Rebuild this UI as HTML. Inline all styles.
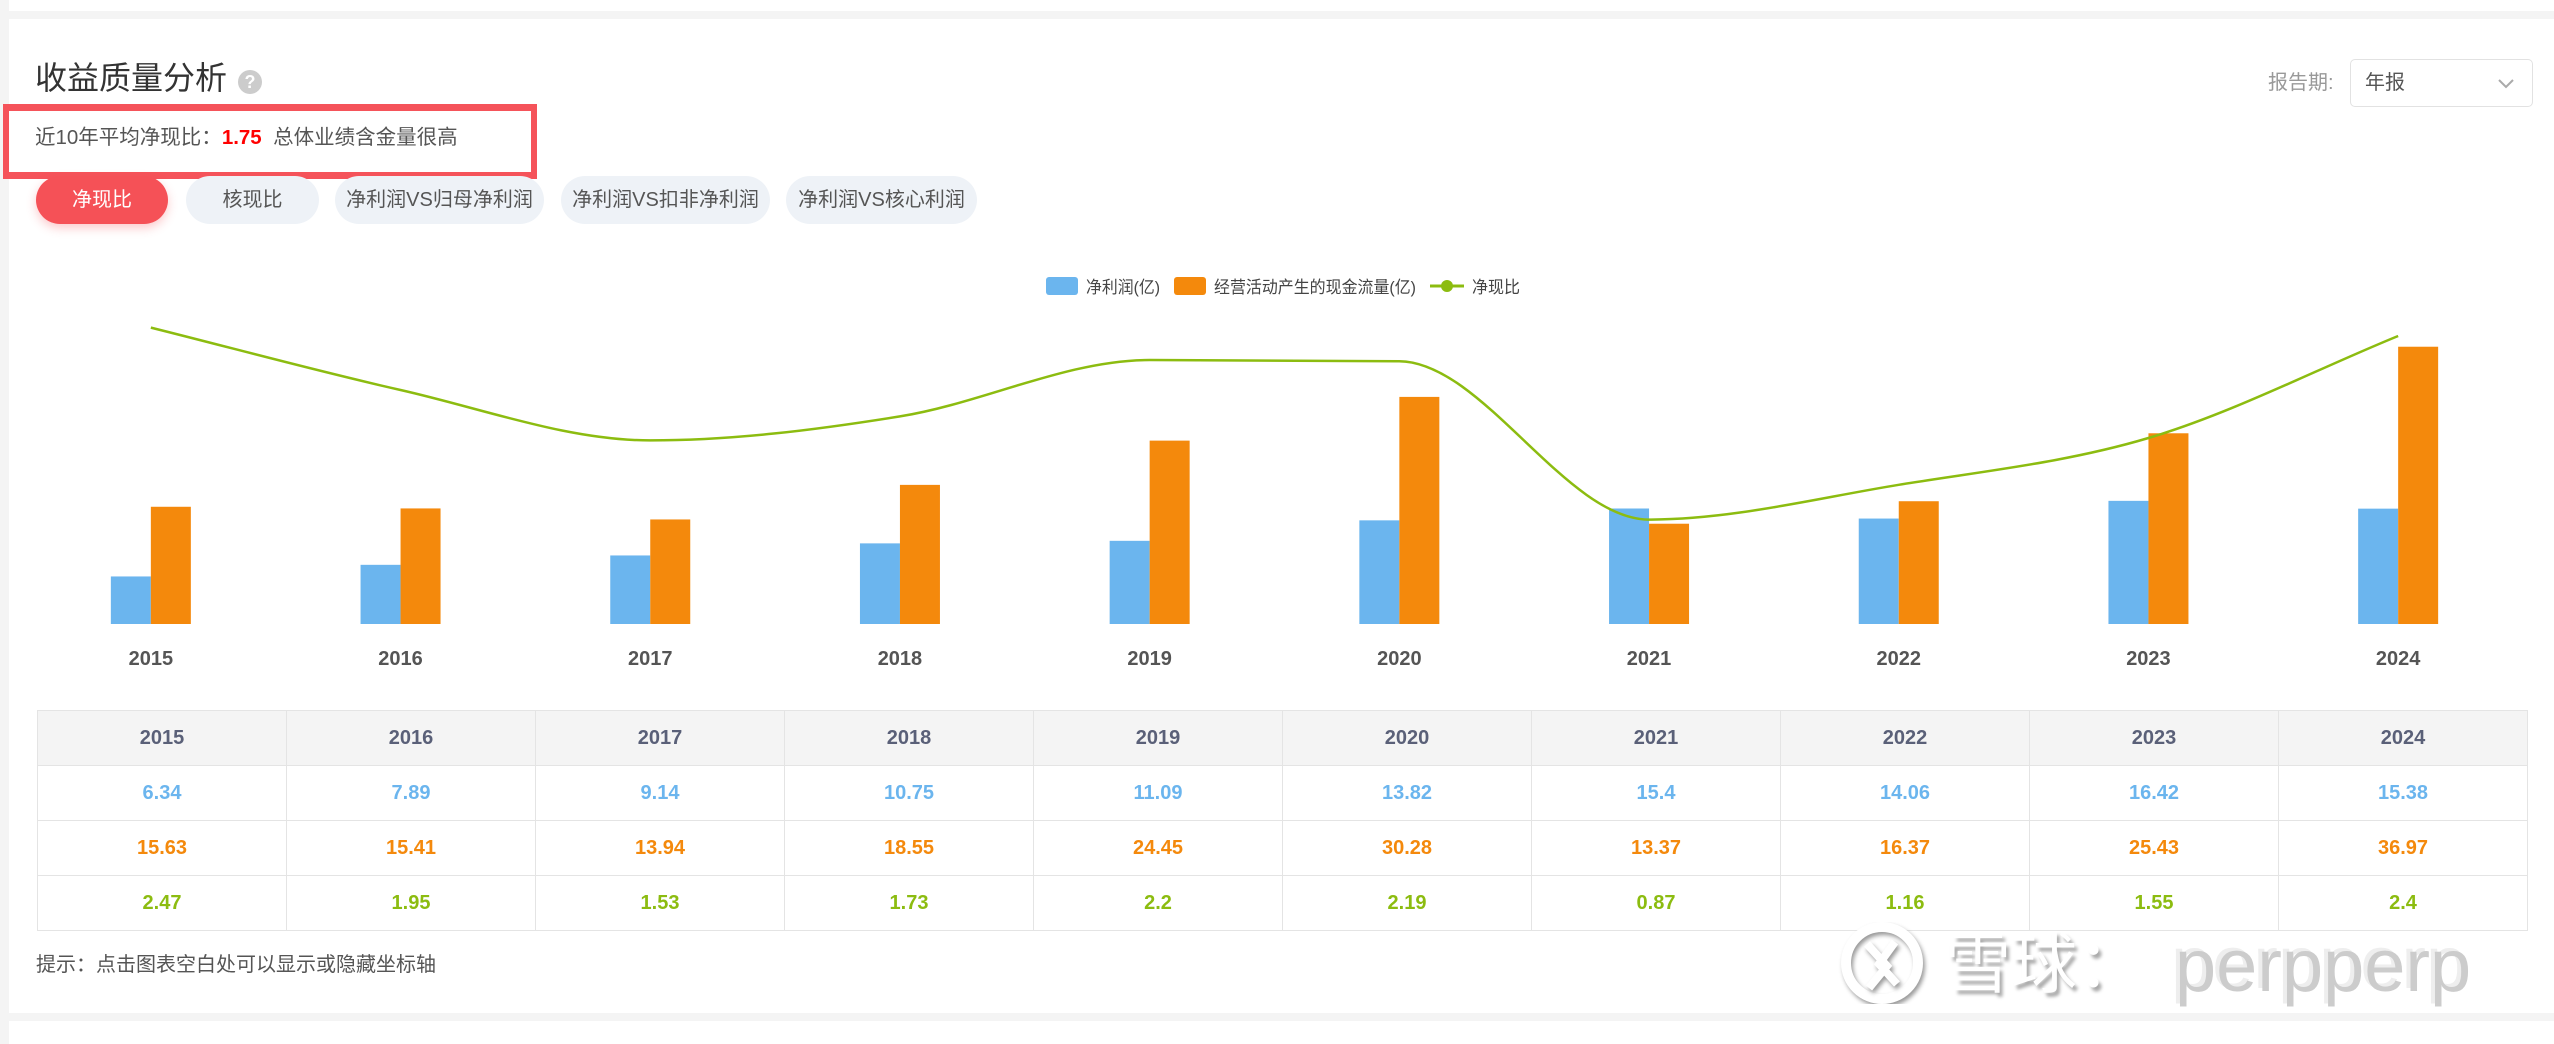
<!DOCTYPE html>
<html><head><meta charset="utf-8">
<style>
html,body{margin:0;padding:0;}
body{width:2554px;height:1044px;background:#f4f4f4;position:relative;overflow:hidden;font-family:"Liberation Sans","Noto Sans CJK SC",sans-serif;}
.abs{position:absolute;}
#card0{left:9px;top:0;width:2545px;height:11px;background:#fff;}
#card{left:9px;top:19px;width:2545px;height:994px;background:#fff;}
#card2{left:9px;top:1021px;width:2545px;height:23px;background:#fff;}
.btn{position:absolute;top:176px;height:48px;border-radius:24px;background:#eef2f7;color:#555;font-size:20px;line-height:48px;text-align:center;}
table{border-collapse:collapse;table-layout:fixed;}
td{border:1px solid #e4e4e4;height:54px;padding:0;text-align:center;font-size:20px;font-weight:bold;}
</style></head><body>
<div class="abs" id="card0"></div>
<div class="abs" id="card"></div>
<div class="abs" id="card2"></div>

<div class="abs" style="left:35px;top:58px;font-size:32px;color:#333;line-height:40px;">收益质量分析</div>
<div class="abs" style="left:238px;top:70px;width:24px;height:24px;border-radius:12px;background:#ccc;color:#fff;font-size:18px;font-weight:bold;text-align:center;line-height:24px;">?</div>

<div class="abs" style="left:3px;top:104px;width:522px;height:61px;border:6px solid #f5535a;border-width:7px 6px;"></div>
<div class="abs" style="left:35px;top:126px;font-size:20.5px;color:#555;line-height:24px;white-space:nowrap;">近10年平均净现比：<span style="color:#f00;font-weight:bold;">1.75</span>&nbsp;&nbsp;总体业绩含金量很高</div>

<div class="btn" style="left:36px;width:132px;background:#f55157;color:#fff;box-shadow:0 4px 10px rgba(245,81,87,0.3);">净现比</div>
<div class="btn" style="left:186px;width:133px;">核现比</div>
<div class="btn" style="left:335px;width:209px;">净利润VS归母净利润</div>
<div class="btn" style="left:561px;width:209px;">净利润VS扣非净利润</div>
<div class="btn" style="left:786px;width:191px;">净利润VS核心利润</div>

<div class="abs" style="left:2268px;top:71px;font-size:20px;color:#999;line-height:24px;">报告期:</div>
<div class="abs" style="left:2350px;top:59px;width:181px;height:46px;border:1px solid #e2e2e2;border-radius:5px;">
  <span style="position:absolute;left:14px;top:11px;font-size:20px;color:#555;line-height:24px;">年报</span>
  <svg style="position:absolute;left:146px;top:16px;" width="18" height="14"><polyline points="2,4 9,11 16,4" fill="none" stroke="#aaa" stroke-width="2"/></svg>
</div>

<svg class="abs" id="chart" style="left:0;top:0;" width="2554" height="700"></svg>

<table class="abs" id="tbl" style="left:37px;top:710px;width:2491px;"></table>

<div class="abs" style="left:36px;top:952px;font-size:20px;color:#555;line-height:26px;">提示：点击图表空白处可以显示或隐藏坐标轴</div>

<div class="abs" style="left:1837px;top:922px;height:85px;white-space:nowrap;">
  <svg width="92" height="82" style="position:absolute;left:0;top:0;"><circle cx="45" cy="41" r="36" fill="none" stroke="#fff" stroke-width="10" style="filter:drop-shadow(2px 3px 2px #999)"/><path d="M30 22 L50 44 L32 66 M58 20 L42 42 L60 62" fill="none" stroke="#fff" stroke-width="8" style="filter:drop-shadow(2px 3px 2px #999)"/></svg>
  <span style="position:absolute;left:108px;top:4px;font-size:66px;color:#fff;text-shadow:3px 4px 3px #aaa;line-height:76px;">雪球：</span>
  <span style="position:absolute;left:338px;top:2px;font-size:74px;color:#ccc;text-shadow:-4px -3px 0 #eee;line-height:84px;">perpperp</span>
</div>

<script>
const years = ['2015','2016','2017','2018','2019','2020','2021','2022','2023','2024'];
const netProfit = [6.34,7.89,9.14,10.75,11.09,13.82,15.4,14.06,16.42,15.38];
const opCashFlow = [15.63,15.41,13.94,18.55,24.45,30.28,13.37,16.37,25.43,36.97];
const cashRatio = [2.47,1.95,1.53,1.73,2.2,2.19,0.87,1.16,1.55,2.4];
const barAxisMax = 40;
const ratioAxisMax = 2.5;

const NS='http://www.w3.org/2000/svg';
const svg=document.getElementById('chart');
const gridL=26, gridW=2497, base=624, plotH=300;
const band=gridW/years.length;
const xC=i=>gridL+band*(i+0.5);
const yBar=v=>base-v/barAxisMax*plotH;
const yRatio=v=>base-v/ratioAxisMax*plotH;
function mk(tag,attrs){const e=document.createElementNS(NS,tag);for(const k in attrs)e.setAttribute(k,attrs[k]);svg.appendChild(e);return e;}

// legend
let lg=mk('rect',{x:1046,y:277,width:32,height:18,rx:3,fill:'#6bb5ee'});


lg=mk('text',{x:1086,y:293,'font-size':17,fill:'#444',textLength:74,lengthAdjust:'spacingAndGlyphs'});lg.textContent='净利润(亿)';


lg=mk('rect',{x:1174,y:277,width:32,height:18,rx:3,fill:'#f4890c'});


lg=mk('text',{x:1214,y:293,'font-size':17,fill:'#444',textLength:202,lengthAdjust:'spacingAndGlyphs'});lg.textContent='经营活动产生的现金流量(亿)';


lg=mk('line',{x1:1430,y1:286,x2:1464,y2:286,stroke:'#8cbc10','stroke-width':3});


lg=mk('circle',{cx:1447,cy:286,r:6,fill:'#8cbc10'});


lg=mk('text',{x:1472,y:293,'font-size':17,fill:'#444',textLength:48,lengthAdjust:'spacingAndGlyphs'});lg.textContent='净现比';



const bw=40;
years.forEach((y,i)=>{
  const c=xC(i);
  let b=mk('rect',{x:c-bw,y:yBar(netProfit[i]),width:bw,height:base-yBar(netProfit[i]),fill:'#6bb5ee'});
  
  
  b=mk('rect',{x:c,y:yBar(opCashFlow[i]),width:bw,height:base-yBar(opCashFlow[i]),fill:'#f4890c'});
  
  
  const t=mk('text',{x:c,y:665,'font-size':20,'font-weight':'bold',fill:'#555','text-anchor':'middle'});
  t.textContent=y;
  
  
});

// monotone-x smooth line
const pts=cashRatio.map((v,i)=>[xC(i),yRatio(v)]);
const n=pts.length;
const sl=[];for(let i=0;i<n-1;i++)sl.push((pts[i+1][1]-pts[i][1])/(pts[i+1][0]-pts[i][0]));
const m=[];
for(let i=0;i<n;i++){
  if(i===0)m.push(sl[0]);else if(i===n-1)m.push(sl[n-2]);
  else if(sl[i-1]*sl[i]<=0)m.push(0);
  else{const h0=pts[i][0]-pts[i-1][0],h1=pts[i+1][0]-pts[i][0];
    const p=(sl[i-1]*h1+sl[i]*h0)/(h0+h1);
    const s=(Math.sign(sl[i-1])+Math.sign(sl[i]))*Math.min(Math.abs(sl[i-1]),Math.abs(sl[i]),0.5*Math.abs(p));
    m.push(s);}
}
let d='M'+pts[0][0]+' '+pts[0][1];
for(let i=1;i<n;i++){
  const h=(pts[i][0]-pts[i-1][0])/3;
  d+=' C'+(pts[i-1][0]+h)+' '+(pts[i-1][1]+m[i-1]*h)+' '+(pts[i][0]-h)+' '+(pts[i][1]-m[i]*h)+' '+pts[i][0]+' '+pts[i][1];
}
const ln=mk('path',{d:d,fill:'none',stroke:'#8cbc10','stroke-width':2.5});



// table
const tbl=document.getElementById('tbl');
const rows=[[years,'#5a6078','header'],[netProfit,'#6bb5ee','net-profit'],[opCashFlow,'#f4890c','cash-flow'],[cashRatio,'#8cbc10','ratio']];
rows.forEach((r,ri)=>{
  const tr=document.createElement('tr');
  
  
  r[0].forEach((v,i)=>{
    const td=document.createElement('td');
    td.textContent=v;
    td.style.color=r[1];
    if(ri===0)td.style.background='#f4f4f4';
    
    
    tr.appendChild(td);
  });
  tbl.appendChild(tr);
});
</script>
</body></html>
